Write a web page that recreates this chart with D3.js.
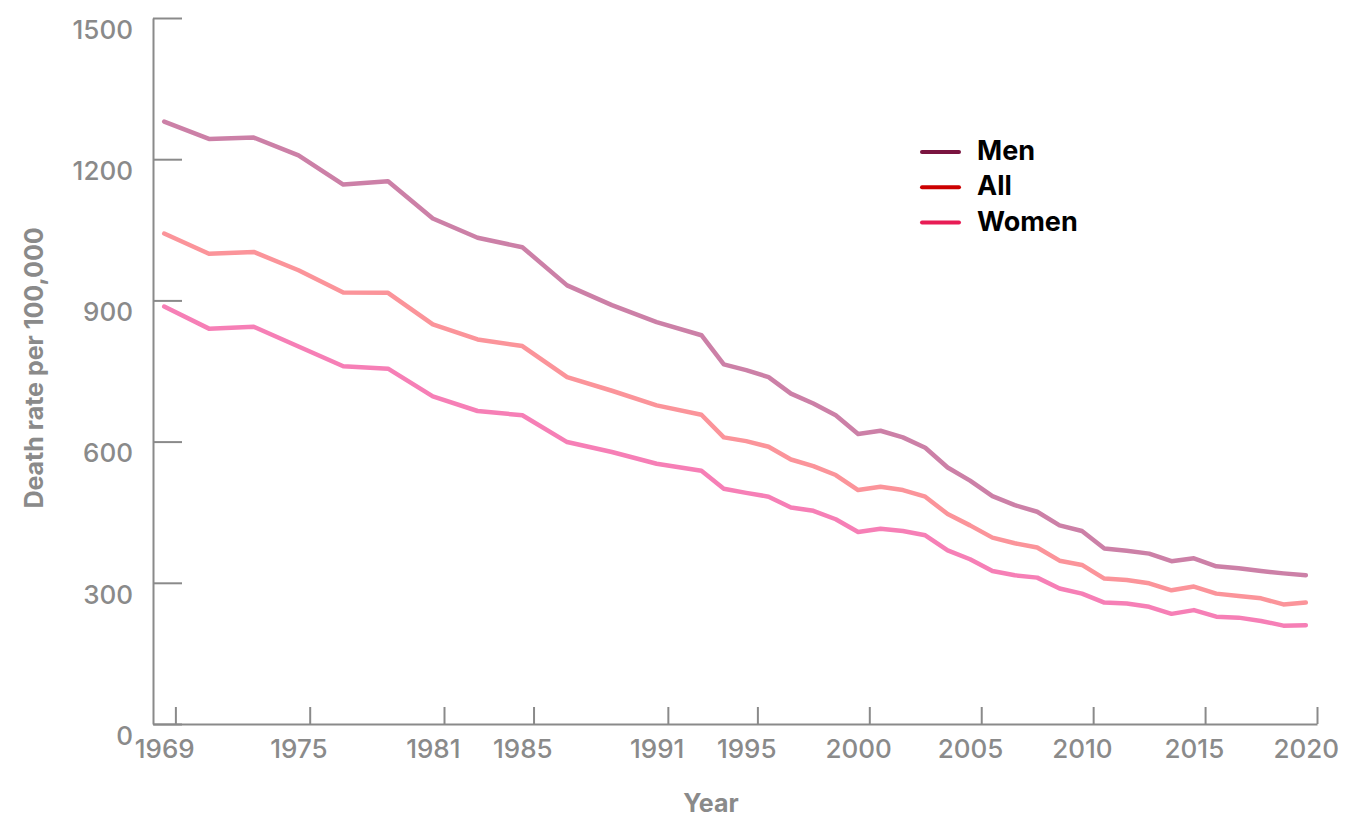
<!DOCTYPE html>
<html>
<head>
  <meta charset="utf-8">
  <script src="https://d3js.org/d3.v7.min.js"></script>
  <style>
    body { margin: 0; background: #fff; }
    .axis path, .axis line { stroke: #8a8a8a; stroke-width: 2; }
    .axis text { fill: #8a8a8a; font-family: Inter, sans-serif; font-size: 26px; font-weight: 500; }
    .title { fill: #8a8a8a; font-family: Inter, sans-serif; font-size: 25px; font-weight: 700; }
    .legend text { fill: #000; font-family: Inter, sans-serif; font-size: 27px; font-weight: 700; }
  </style>
</head>
<body>
  <svg id="chart" width="1360" height="819"></svg>
  <script>
    // data
    const years = [1969, 1971, 1973, 1975, 1977, 1979, 1981, 1983, 1985, 1987, 1989, 1991, 1993,
      1994, 1995, 1996, 1997, 1998, 1999, 2000, 2001, 2002, 2003, 2004, 2005, 2006, 2007,
      2008, 2009, 2010, 2011, 2012, 2013, 2014, 2015, 2016, 2017, 2018, 2019, 2020];
    const men = [1280, 1243, 1246, 1208, 1146, 1153, 1074, 1033, 1013, 932, 890, 854, 826,
      764, 752, 737, 702, 681, 656, 616, 623, 609, 587, 545, 517, 484, 465, 451,
      422, 410, 373, 368, 362, 346, 352, 335, 331, 325, 320, 316];
    const all = [1042, 999, 1003, 964, 917, 916, 849, 817, 803, 737, 708, 677, 657,
      609, 601, 589, 562, 548, 529, 497, 504, 497, 483, 446, 422, 396, 384, 375,
      347, 338, 309, 306, 299, 284, 292, 277, 272, 267, 254, 258];
    const women = [887, 840, 844, 802, 760, 755, 696, 665, 656, 599, 578, 553, 538,
      500, 491, 483, 460, 453, 435, 408, 415, 410, 401, 369, 350, 325, 316, 311,
      288, 277, 258, 256, 249, 234, 242, 228, 226, 219, 209, 210];
    const xTicks = [1969, 1975, 1981, 1985, 1991, 1995, 2000, 2005, 2010, 2015, 2020];
    const yTicks = [0, 300, 600, 900, 1200, 1500];

    const series = [
      { name: "Men", values: men, color: "#cc80a7", legendColor: "#7a1440" },
      { name: "All", values: all, color: "#fb949a", legendColor: "#cc0000" },
      { name: "Women", values: women, color: "#f67fb6", legendColor: "#e81c55" }
    ];

    const svg = d3.select("#chart");

    const x = d3.scaleLinear().domain([1968.5, 2020.5]).range([153, 1317]);
    const y = d3.scaleLinear().domain([0, 1500]).range([724, 18]);

    // y axis, ticks pointing inward
    svg.append("g")
      .attr("class", "axis")
      .attr("transform", "translate(153,0)")
      .call(d3.axisLeft(y).tickValues(yTicks).tickFormat(d3.format("d")).tickSize(-29).tickSizeOuter(0).tickPadding(20))
      .selectAll("text").attr("dy", "0.78em");

    // x axis, ticks sit half a year to the right of their labels
    const half = (x(1970) - x(1969)) / 2;
    const xg = svg.append("g")
      .attr("class", "axis")
      .attr("transform", "translate(0,724)")
      .call(d3.axisBottom(x).tickValues(xTicks).tickFormat(d3.format("d")).tickSize(-17).tickSizeOuter(0).tickPadding(16));
    xg.selectAll(".tick line").attr("x1", half).attr("x2", half);
    xg.selectAll("text").attr("dy", "0.71em");

    const line = d3.line()
      .x((d, i) => x(years[i]))
      .y(d => y(d));

    series.forEach(s => {
      svg.append("path")
        .datum(s.values)
        .attr("d", line)
        .attr("fill", "none")
        .attr("stroke", s.color)
        .attr("stroke-width", 4.5)
        .attr("stroke-linejoin", "round")
        .attr("stroke-linecap", "round");
    });

    // axis titles
    svg.append("text")
      .attr("class", "title")
      .attr("transform", "translate(43,368) rotate(-90)")
      .style("text-anchor", "middle")
      .text("Death rate per 100,000");

    svg.append("text")
      .attr("class", "title")
      .attr("x", 711)
      .attr("y", 812)
      .style("text-anchor", "middle")
      .text("Year");

    // legend
    const legend = svg.append("g").attr("class", "legend").attr("transform", "translate(922,152)");
    series.forEach((s, i) => {
      legend.append("line")
        .attr("x1", 0).attr("x2", 37)
        .attr("y1", i * 35.3).attr("y2", i * 35.3)
        .attr("stroke", s.legendColor)
        .attr("stroke-width", 4)
        .attr("stroke-linecap", "round");
      legend.append("text")
        .attr("x", 55)
        .attr("y", i * 35.3 + 8)
        .text(s.name);
    });
  </script>
</body>
</html>
